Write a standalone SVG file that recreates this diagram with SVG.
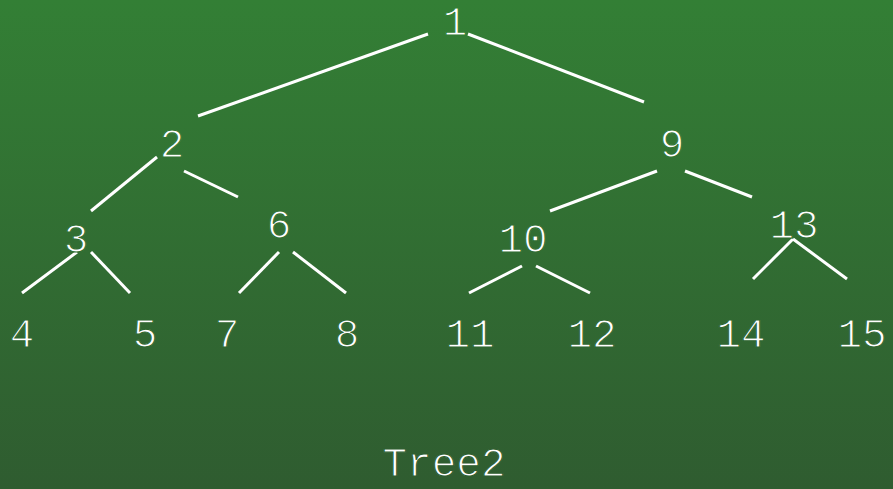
<svg xmlns="http://www.w3.org/2000/svg" width="893" height="489" viewBox="0 0 893 489">
<defs>
<linearGradient id="bg" x1="0" y1="0" x2="0" y2="489" gradientUnits="userSpaceOnUse">
<stop offset="0" stop-color="#337f35"/>
<stop offset="1" stop-color="#2f5c30"/>
</linearGradient>
</defs>
<style>
text{font-family:"Liberation Mono","DejaVu Sans Mono",monospace;font-size:41px;fill:#ffffff;stroke:url(#bg);stroke-width:1.2px;text-anchor:middle}
.e line{stroke:#ffffff;stroke-width:3}
</style>
<rect width="893" height="489" fill="url(#bg)"/>
<g class="e" id="connectors">
<line x1="428" y1="34" x2="198" y2="116"/>
<line x1="468" y1="34" x2="644" y2="102"/>
<line x1="157" y1="157" x2="91" y2="211"/>
<line x1="184" y1="171" x2="238" y2="197"/>
<line x1="657" y1="171" x2="550" y2="211"/>
<line x1="685" y1="171" x2="752" y2="197"/>
<line x1="77" y1="252" x2="22" y2="293"/>
<line x1="91" y1="252" x2="130" y2="293"/>
<line x1="279" y1="252" x2="239" y2="293"/>
<line x1="293" y1="252" x2="346" y2="293"/>
<line x1="522" y1="266" x2="469" y2="293"/>
<line x1="536" y1="266" x2="590" y2="293"/>
<line x1="793" y1="239" x2="753" y2="279"/>
<line x1="793" y1="239" x2="847" y2="279"/>
</g>
<g id="n1"><text x="455" y="35">1</text></g>
<g id="n2"><text x="172" y="157">2</text></g>
<g id="n9"><text x="672" y="157">9</text></g>
<g id="n3"><text x="76" y="252">3</text></g>
<g id="n6"><text x="279" y="238">6</text></g>
<g id="n10"><text x="523" y="252">10</text></g>
<g id="n13"><text x="794" y="238">13</text></g>
<g id="n4"><text x="22" y="347">4</text></g>
<g id="n5"><text x="145" y="347">5</text></g>
<g id="n7"><text x="227" y="347">7</text></g>
<g id="n8"><text x="347" y="347">8</text></g>
<g id="n11"><text x="470" y="347">11</text></g>
<g id="n12"><text x="592" y="347">12</text></g>
<g id="n14"><text x="741" y="347">14</text></g>
<g id="n15"><text x="862" y="347">15</text></g>
<g id="caption"><text x="444" y="476">Tree2</text></g>
</svg>
